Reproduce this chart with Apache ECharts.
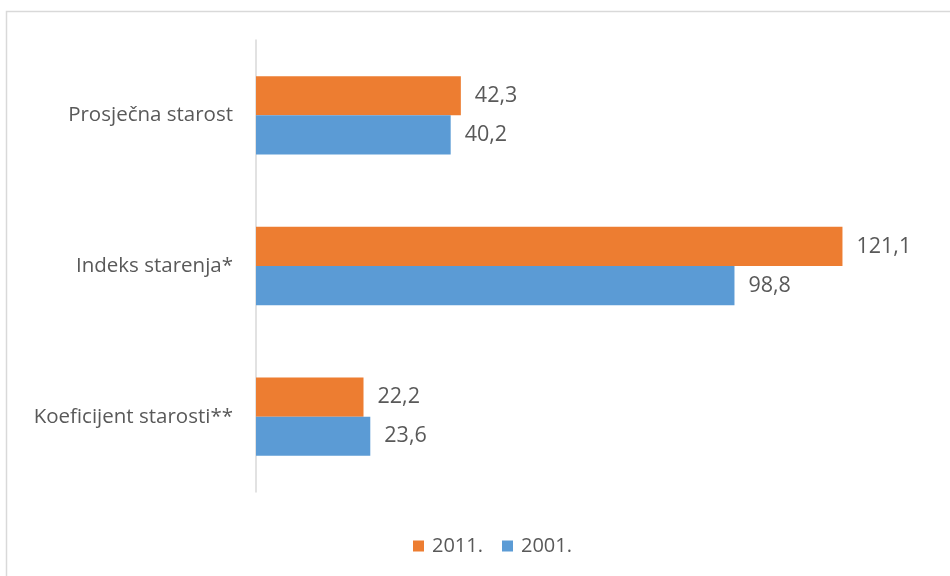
<!DOCTYPE html>
<html><head><meta charset="utf-8">
<script src="https://cdn.jsdelivr.net/npm/echarts@6/dist/echarts.min.js"></script>
<style>html,body{margin:0;padding:0;background:#fff;}#c{width:950px;height:576px;}</style>
</head><body><div id="c"></div>
<script>
const categories = ['Prosječna starost', 'Indeks starenja*', 'Koeficijent starosti**'];
const series2011 = [42.3, 121.1, 22.2];
const series2001 = [40.2, 98.8, 23.6];
const seriesNames = ['2011.', '2001.'];

const chart = echarts.init(document.getElementById('c'));
const fmt = p => String(p.value).replace('.', ',');
const lbl = {show: true, position: 'right', distance: 14, color: '#595959', fontSize: 21.5, fontFamily: 'Open Sans', formatter: fmt, padding: [2, 0, 0, 0]};
chart.setOption({
  animation: false,
  graphic: [{type: 'rect', shape: {x: 6.5, y: 11.5, width: 1000, height: 1000}, style: {fill: 'none', stroke: '#d9d9d9', lineWidth: 1.5}, silent: true}],
  grid: {left: 256, right: 16, top: 40, bottom: 84},
  legend: {
    data: seriesNames, bottom: 15, left: 408, itemWidth: 11, itemHeight: 11, itemGap: 19,
    icon: 'rect',
    textStyle: {color: '#595959', fontSize: 20, fontFamily: 'Open Sans', padding: [0, 0, 0, 3]}
  },
  xAxis: {type: 'value', min: 0, max: 140, show: false},
  yAxis: {
    type: 'category', data: categories, inverse: true,
    axisLine: {lineStyle: {color: '#d9d9d9', width: 1.5}},
    axisTick: {show: false},
    axisLabel: {color: '#595959', fontSize: 20.5, fontFamily: 'Open Sans', margin: 23, padding: [3, 0, 0, 0]}
  },
  series: [
    {name: seriesNames[0], type: 'bar', data: series2011, itemStyle: {color: '#ED7D31'}, barGap: '0%', barCategoryGap: '48%', label: lbl},
    {name: seriesNames[1], type: 'bar', data: series2001, itemStyle: {color: '#5B9BD5'}, barGap: '0%', barCategoryGap: '48%', label: lbl}
  ]
});
</script></body></html>
